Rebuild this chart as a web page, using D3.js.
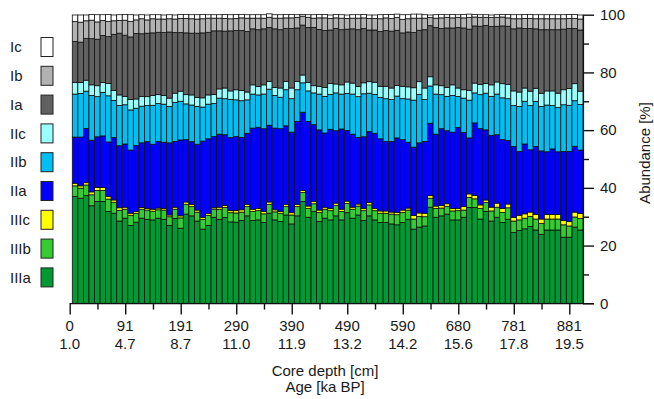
<!DOCTYPE html>
<html>
<head>
<meta charset="utf-8">
<script src="https://cdn.jsdelivr.net/npm/d3@7"></script>
<style>
  body { margin: 0; background: #fff; }
  svg text { font-family: "Liberation Sans", Arial, sans-serif; fill: #1a1a1a; }
</style>
</head>
<body>
<div id="chart"></div>
<script>
// stacking order, bottom to top
const keys = ["IIIa", "IIIb", "IIIc", "IIa", "IIb", "IIc", "Ia", "Ib", "Ic"];
const colors = {
    Ic: "#ffffff", Ib: "#b2b2b2", Ia: "#616161",
    IIc: "#99ffff", IIb: "#00bff3", IIa: "#0000ff",
    IIIc: "#ffff00", IIIb: "#33cc33", IIIa: "#009933"
};

// tick labels every 10th sample
const depthLabels = ["0", "91", "191", "290", "390", "490", "590", "680", "781", "881"];
const ageLabels = ["1.0", "4.7", "8.7", "11.0", "11.9", "13.2", "14.2", "15.6", "17.8", "19.5"];

// abundance [%] per sample
const iiia = [37.0,36.4,37.3,33.8,35.3,35.3,31.8,31.2,28.5,29.5, 27.0,28.1,29.5,29.1,28.9,29.5,29.1,27.0,29.4,26.0,
    30.9,30.3,28.5,25.7,27.0,29.8,29.1,29.7,28.2,28.1, 28.7,30.3,28.7,28.9,28.0,31.2,28.9,28.3,30.6,27.5,
    30.3,35.3,29.8,31.8,28.3,29.5,28.9,30.3,28.9,31.4, 29.5,30.6,28.7,30.3,28.9,28.0,28.0,27.5,27.2,28.0,
    29.1,25.7,26.4,26.8,33.3,29.8,30.3,30.9,28.9,28.9, 29.8,33.2,33.2,29.2,31.8,28.5,29.8,28.0,29.1,24.5,
    25.2,25.8,26.6,25.4,23.9,25.4,25.4,25.4,22.9,22.9, 26.4,25.4];
const iiib = [3.7,3.5,3.7,3.8,3.8,3.8,4.3,3.8,3.7,3.1, 3.5,3.1,3.1,3.2,3.0,2.9,3.2,3.0,3.2,3.6,
    3.4,3.2,3.1,3.4,3.5,2.8,3.5,3.5,3.2,3.2, 2.9,3.2,3.1,3.2,3.0,3.1,2.8,2.9,2.9,3.1,
    3.2,3.1,3.1,2.7,3.2,3.1,3.2,3.6,2.9,3.2, 3.1,3.1,3.4,3.8,3.2,3.2,3.2,3.4,3.5,3.5,
    3.2,3.5,3.7,3.2,3.1,3.1,2.7,2.7,3.1,3.2, 2.5,3.5,3.0,3.7,3.1,3.5,3.5,3.5,4.0,4.0,
    3.7,3.7,3.5,3.8,3.8,3.8,3.8,3.8,4.3,3.9, 3.5,4.0];
const iiic = [0.9,0.8,0.8,1.0,1.0,1.0,0.9,0.8,0.9,0.7, 0.7,0.6,0.6,0.6,0.7,0.6,0.6,0.6,0.7,0.7,
    0.8,0.8,0.7,0.7,0.7,0.5,0.7,0.7,0.7,0.8, 0.8,0.8,0.8,0.8,0.8,0.8,0.7,0.6,0.8,0.8,
    0.8,0.7,0.8,0.8,0.8,0.7,0.7,0.8,0.8,0.8, 0.7,0.7,0.7,0.8,0.8,0.8,0.8,0.7,0.8,0.8,
    0.7,1.2,1.2,1.2,0.9,0.8,0.9,0.9,0.9,0.8, 1.2,1.2,1.2,1.2,0.9,1.3,1.4,1.4,1.3,1.3,
    1.6,1.5,1.5,1.6,1.5,1.6,1.6,1.6,1.5,1.5, 1.7,1.7];
const iia = [16.0,16.9,18.8,17.9,17.6,17.9,18.9,21.6,21.5,21.9, 21.9,22.9,22.4,23.1,22.5,23.1,22.9,25.0,22.8,26.3,
    21.6,21.7,22.8,26.4,25.8,24.7,25.3,24.5,25.3,25.7, 25.1,24.6,28.1,28.1,28.7,26.6,28.3,28.7,27.2,27.9,
    28.7,27.1,29.3,26.6,27.8,25.7,27.5,25.1,27.8,24.5, 25.3,23.1,24.9,24.6,26.0,25.0,24.1,24.5,25.8,24.4,
    22.8,23.7,24.3,24.9,25.1,24.9,26.6,25.3,26.4,28.0, 25.7,19.4,25.1,26.4,24.3,24.9,23.7,23.8,22.0,24.5,
    22.1,24.2,21.6,23.5,23.6,21.7,22.7,21.7,23.9,24.3, 22.8,22.0];
const iib = [14.9,15.1,12.9,15.5,13.9,15.1,16.0,12.9,13.9,13.6, 13.9,12.9,12.7,12.5,13.5,13.1,13.2,12.6,13.5,13.4,
    12.4,12.7,13.1,11.8,12.0,11.4,12.5,12.5,13.2,12.7, 12.7,11.6,11.8,11.2,12.0,12.5,11.3,10.9,12.5,11.6,
    11.0,10.2,10.6,11.0,12.4,12.7,12.1,13.1,12.1,12.8, 13.9,14.1,14.9,13.3,13.5,14.3,14.8,14.5,14.5,14.2,
    15.0,16.3,16.8,14.5,12.9,13.9,11.8,11.9,12.7,10.8, 11.9,13.1,10.4,11.8,12.7,13.5,14.1,14.5,14.5,14.2,
    15.6,14.8,15.3,15.6,15.4,16.2,15.0,15.3,16.2,16.0, 15.8,15.8];
const iic = [4.0,3.8,3.8,3.7,3.8,3.4,4.3,3.4,3.7,2.9, 3.6,3.2,3.4,3.1,3.4,3.1,3.0,2.9,3.2,3.5,
    3.2,3.5,3.1,3.2,3.2,3.2,3.2,3.7,3.0,3.5, 3.5,2.7,3.2,2.9,3.2,2.7,2.8,3.2,2.9,3.7,
    2.9,2.7,2.9,2.5,2.7,3.1,3.8,3.1,3.2,4.0, 3.8,3.5,3.8,4.0,4.2,3.8,4.3,4.0,3.7,4.3,
    4.2,4.3,4.4,4.0,3.2,3.2,3.1,3.1,3.7,2.9, 2.9,3.4,3.4,3.5,3.4,4.0,4.2,4.9,4.9,5.1,
    5.0,4.6,5.0,4.6,4.6,4.9,5.1,5.0,5.2,5.8, 5.9,4.6];
const ia = [14.2,14.0,14.5,16.0,16.1,16.3,16.2,19.5,21.4,21.2, 21.7,22.7,21.7,22.0,21.7,21.6,21.8,22.9,21.0,20.3,
    21.4,21.4,22.3,22.5,21.7,22.0,20.1,19.7,20.8,20.5, 20.8,21.0,19.4,19.7,19.4,18.7,20.3,20.2,18.3,20.6,
    18.5,17.3,19.1,20.2,19.7,19.7,18.5,19.2,19.1,18.3, 18.8,19.7,18.8,17.9,18.1,19.1,19.3,19.7,19.1,18.5,
    19.0,19.1,17.8,20.2,17.7,19.9,19.8,20.6,19.7,21.0, 21.4,21.2,19.8,20.2,20.1,20.2,19.3,20.0,20.2,21.5,
    22.2,20.6,21.7,20.6,22.0,21.2,21.2,22.0,21.0,20.8, 19.1,21.2];
const ib = [6.9,6.9,6.1,6.4,6.0,5.2,5.3,4.7,4.4,5.2, 5.4,4.7,5.2,4.6,4.9,4.6,4.7,4.6,4.7,4.9,
    5.0,5.0,4.9,4.9,4.9,4.4,4.4,4.4,4.2,4.2, 4.4,4.6,3.7,4.0,3.7,3.5,3.7,4.0,3.7,3.7,
    3.7,3.1,3.5,3.2,4.0,4.4,4.0,3.7,4.0,3.7, 3.7,4.0,3.7,4.0,4.0,4.4,4.4,4.4,4.4,4.7,
    4.6,5.0,4.2,4.0,2.8,3.2,3.7,3.7,3.5,3.5, 3.5,4.0,3.1,3.1,2.8,3.1,3.1,3.1,2.9,3.5,
    3.2,3.5,3.5,3.5,3.8,3.8,3.8,3.8,3.6,3.5, 3.5,3.8];
const ic = [2.3,2.5,2.0,2.0,2.5,2.0,2.4,2.0,2.0,2.0, 2.3,1.7,1.4,1.7,1.4,1.5,1.4,1.4,1.4,1.4,
    1.4,1.4,1.5,1.5,1.2,1.2,1.2,1.4,1.4,1.4, 1.2,1.2,1.2,1.2,1.2,1.2,1.2,1.2,1.2,1.2,
    0.9,0.6,0.9,1.2,1.2,1.2,1.2,1.2,1.2,1.2, 1.2,1.2,1.2,1.2,1.2,1.4,1.2,1.4,1.2,1.6,
    1.4,1.4,1.4,1.2,0.9,1.2,1.2,0.9,1.2,0.9, 1.2,1.2,0.9,0.9,0.9,0.9,0.9,0.9,1.2,1.4,
    1.4,1.4,1.4,1.4,1.4,1.4,1.4,1.4,1.4,1.4, 1.4,1.4];

const series = { IIIa: iiia, IIIb: iiib, IIIc: iiic, IIa: iia, IIb: iib, IIc: iic, Ia: ia, Ib: ib, Ic: ic };
const n = iiia.length;
const rows = d3.range(n).map(i => {
    const r = {};
    keys.forEach(k => { r[k] = series[k][i]; });
    return r;
});
const stacked = d3.stack().keys(keys)(rows);

const width = 654, height = 399;
const svg = d3.select("#chart").append("svg").attr("width", width).attr("height", height);

// bar positions (index -> px) and the slightly shifted tick positions
const x = d3.scaleLinear().domain([0, n]).range([72.3, 583]);
const xt = d3.scaleLinear().domain([0, n]).range([69.7, 580.4]);
const y = d3.scaleLinear().domain([0, 100]).range([303.3, 14.7]);

// Bars
svg.append("g")
    .selectAll("g")
    .data(stacked)
    .join("g")
    .attr("fill", d => colors[d.key])
    .selectAll("rect")
    .data(d => d)
    .join("rect")
    .attr("x", (d, i) => x(i))
    .attr("width", x(1) - x(0))
    .attr("y", d => y(d[1]))
    .attr("height", d => y(d[0]) - y(d[1]))
    .attr("stroke", "#111")
    .attr("stroke-width", 0.8);

// X axis
const xAxis = svg.append("g")
    .attr("transform", `translate(0,${y(0) + 0.3})`)
    .call(d3.axisBottom(xt).tickValues(d3.range(0, 91, 5)).tickSize(11).tickSizeOuter(0).tickFormat(""));
xAxis.select(".domain").remove();
xAxis.selectAll(".tick line")
    .attr("y2", d => d % 10 === 0 ? 11 : 6)
    .attr("stroke", "#111")
    .attr("stroke-width", 1.4);
xAxis.append("line")
    .attr("x1", xt(0)).attr("x2", 594)
    .attr("stroke", "#111").attr("stroke-width", 1.4);

const labelIdx = d3.range(0, 91, 10);
svg.append("g").selectAll("text").data(labelIdx).join("text")
    .attr("x", d => xt(d)).attr("y", 331)
    .attr("text-anchor", "middle").style("font-size", "15px")
    .text((d, i) => depthLabels[i]);
svg.append("g").selectAll("text").data(labelIdx).join("text")
    .attr("x", d => xt(d)).attr("y", 348.5)
    .attr("text-anchor", "middle").style("font-size", "15px")
    .text((d, i) => ageLabels[i]);

svg.append("text").attr("x", 325).attr("y", 376).attr("text-anchor", "middle")
    .style("font-size", "15px").text("Core depth [cm]");
svg.append("text").attr("x", 325).attr("y", 392).attr("text-anchor", "middle")
    .style("font-size", "15px").text("Age [ka BP]");

// Y axis (right)
const yAxis = svg.append("g")
    .attr("transform", `translate(${x(n)},0)`)
    .call(d3.axisRight(y).tickValues(d3.range(0, 101, 10)).tickSize(11).tickSizeOuter(0)
        .tickFormat(d => d % 20 === 0 ? d : ""));
yAxis.select(".domain").attr("stroke", "#111").attr("stroke-width", 1.2);
yAxis.selectAll(".tick line")
    .attr("x2", d => d % 20 === 0 ? 11 : 6)
    .attr("stroke", "#111")
    .attr("stroke-width", 1.4);
yAxis.selectAll(".tick text")
    .attr("x", 17)
    .style("font-size", "15px")
    .style("font-family", "'Liberation Sans', Arial, sans-serif")
    .attr("fill", "#1a1a1a");

svg.append("text")
    .attr("transform", "translate(645,153) rotate(-90)")
    .attr("text-anchor", "middle").attr("dy", "0.35em")
    .style("font-size", "15px").text("Abundance [%]");

// Legend
const legendKeys = keys.slice().reverse();
const legend = svg.append("g").selectAll("g").data(legendKeys).join("g")
    .attr("transform", (d, i) => `translate(0,${47 + i * 28.8})`);
legend.append("text")
    .attr("x", 10).attr("dy", "0.35em")
    .style("font-size", "15px")
    .text(d => d);
legend.append("rect")
    .attr("x", 41).attr("y", -9.5)
    .attr("width", 12).attr("height", 19)
    .attr("fill", d => colors[d])
    .attr("stroke", "#222").attr("stroke-width", 1);
</script>
</body>
</html>
